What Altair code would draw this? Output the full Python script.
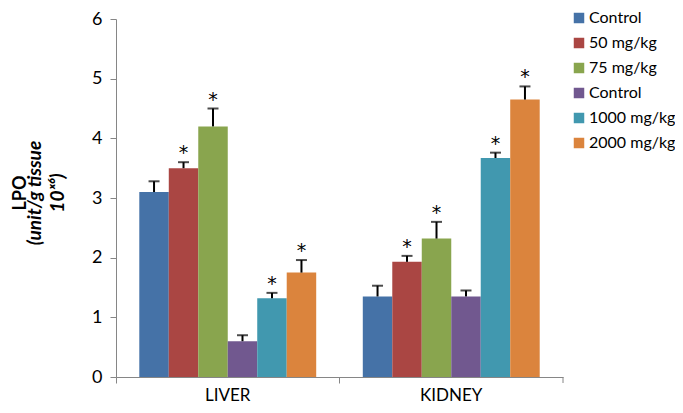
import altair as alt
import pandas as pd

organs = ["LIVER", "KIDNEY"]
series = ["Control", "50 mg/kg", "75 mg/kg", "Control ", "1000 mg/kg", "2000 mg/kg"]
colors = ["#4572A7", "#AA4643", "#89A54E", "#71588F", "#4198AF", "#DB843D"]
liver_vals = [3.10, 3.50, 4.20, 0.60, 1.32, 1.75]
liver_err = [0.18, 0.10, 0.30, 0.10, 0.09, 0.21]
kidney_vals = [1.35, 1.93, 2.32, 1.35, 3.67, 4.65]
kidney_err = [0.18, 0.10, 0.28, 0.10, 0.09, 0.22]
liver_sig = ["", "*", "*", "", "*", "*"]
kidney_sig = ["", "*", "*", "", "*", "*"]
ytitle = ["LPO", "(unit/g tissue", "10ˣ⁶)"]

rows = []
for organ, vals, errs, sigs in [("LIVER", liver_vals, liver_err, liver_sig),
                                ("KIDNEY", kidney_vals, kidney_err, kidney_sig)]:
    for s, v, e, g in zip(series, vals, errs, sigs):
        rows.append({"organ": organ, "series": s, "value": v, "top": v + e, "sig": g})
df = pd.DataFrame(rows)

FONT = "Lato"
W, H = 447, 358

x = alt.X("organ:N", sort=organs, title=None,
          scale=alt.Scale(paddingInner=0, paddingOuter=0),
          axis=alt.Axis(labelAngle=0, labelFontSize=17, labelPadding=4, labelColor="#000000",
                        domainColor="#868686", tickColor="#868686", tickSize=6,
                        bandPosition=0, labelFont=FONT, labelBaseline="top"))
xo = alt.XOffset("series:N", sort=series,
                 scale=alt.Scale(paddingInner=0, paddingOuter=0.79))
y = alt.Y("value:Q", title=None,
          scale=alt.Scale(domain=[0, 6], nice=False),
          axis=alt.Axis(values=[0, 1, 2, 3, 4, 5, 6], format="d", grid=False, labelFontSize=18,
                        labelColor="#000000", domainColor="#868686", tickColor="#868686",
                        tickSize=6, labelPadding=8, labelFont=FONT))

base = alt.Chart(df)

bars = base.mark_bar().encode(
    x=x, xOffset=xo, y=y,
    color=alt.Color("series:N", sort=series,
                    scale=alt.Scale(domain=series, range=colors),
                    legend=alt.Legend(title=None, orient="none", legendX=455, legendY=-9,
                                      symbolType="square", symbolSize=110, symbolStrokeWidth=0,
                                      labelFontSize=16, labelFont=FONT, labelColor="#000000",
                                      labelOffset=2, rowPadding=9))
)

xs = alt.X("organ:N", sort=organs)
xos = alt.XOffset("series:N", sort=series)

err_rule = base.mark_rule(color="black", strokeWidth=2).encode(
    x=xs, xOffset=xos, y="value:Q", y2="top:Q")

err_cap = base.mark_tick(color="black", thickness=2, size=11).encode(
    x=xs, xOffset=xos, y="top:Q")

stars = base.mark_text(fontSize=19, color="black", baseline="alphabetic", dy=-3,
                       font="DejaVu Sans").encode(
    x=xs, xOffset=xos, y="top:Q", text="sig:N")

end_tick = alt.Chart(pd.DataFrame({"a": [0]})).mark_rule(color="#868686").encode(
    x=alt.value(W), y=alt.value(H), y2=alt.value(H + 6))

title_x = [-95, -81, -58]
title_size = [18, 19, 19]
title_style = ["normal", "italic", "italic"]
title_layers = []
for i, txt in enumerate(ytitle):
    title_layers.append(
        alt.Chart(pd.DataFrame({"t": [txt]})).mark_text(
            angle=270, fontSize=title_size[i], fontWeight="bold", font=FONT,
            fontStyle=title_style[i], color="black",
            baseline="middle", align="center",
        ).encode(x=alt.value(title_x[i]), y=alt.value(174), text="t:N")
    )

chart = alt.layer(bars, err_rule, err_cap, stars, end_tick, *title_layers).properties(
    width=W, height=H,
    autosize=alt.AutoSizeParams(type="none"),
    padding={"left": 108, "top": 11, "right": 112, "bottom": 36},
).configure_view(stroke=None)

chart.save("out.html", embed_options={"renderer": "svg", "actions": False})
